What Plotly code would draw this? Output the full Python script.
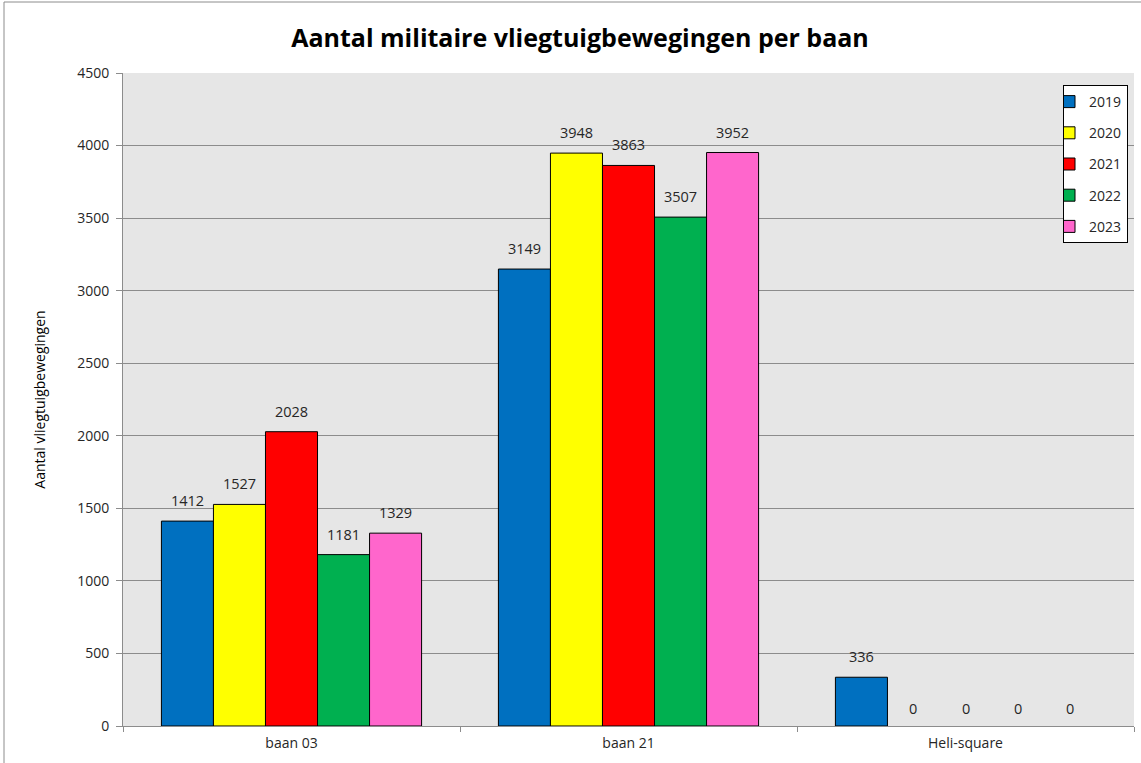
import plotly.graph_objects as go

categories = ["baan 03", "baan 21", "Heli-square"]
years = ["2019", "2020", "2021", "2022", "2023"]
values = {
    "2019": [1412, 3149, 336],
    "2020": [1527, 3948, 0],
    "2021": [2028, 3863, 0],
    "2022": [1181, 3507, 0],
    "2023": [1329, 3952, 0],
}
colors = ["#0070C0", "#FFFF00", "#FF0000", "#00B050", "#FF66CC"]
y_ticks = [0, 500, 1000, 1500, 2000, 2500, 3000, 3500, 4000, 4500]

FONT = "Open Sans"
W, H = 1141, 763
ML, MR, MT, MB = 123, 7, 73, 37
BARGAP = 0.228

fig = go.Figure()
for yr, col in zip(years, colors):
    fig.add_trace(go.Bar(
        name=yr, x=categories, y=values[yr],
        marker=dict(color=col,
                    line=dict(color="black",
                              width=[1 if v > 0 else 0 for v in values[yr]])),
        legendgroup=yr,
    ))

# data labels as annotations, placed with the bars' own offsets
plot_w = W - ML - MR
cat_px = plot_w / len(categories)
slot_px = cat_px * (1 - BARGAP) / len(years)
for i, yr in enumerate(years):
    for cat, v in zip(categories, values[yr]):
        fig.add_annotation(
            x=cat, y=v, xref="x", yref="y", text=str(v), showarrow=False,
            xshift=(i - (len(years) - 1) / 2) * slot_px,
            yshift=9 if v > 0 else 6,
            yanchor="bottom",
            font=dict(size=14.5, color="#262626", family=FONT))

fig.update_layout(
    width=W, height=H,
    margin=dict(l=ML, r=MR, t=MT, b=MB),
    paper_bgcolor="white", plot_bgcolor="#E6E6E6",
    barmode="group", bargap=BARGAP, bargroupgap=0,
    font=dict(family=FONT, size=14, color="#262626"),
    title=dict(text="<b>Aantal militaire vliegtuigbewegingen per baan</b>",
               x=580 / W, xanchor="center", xref="container",
               y=1 - 38 / H, yanchor="middle", yref="container",
               font=dict(size=25, color="black", family=FONT)),
    showlegend=True,
    legend=dict(x=(1063 - ML) / plot_w, xanchor="left",
                y=(H - MB - 85) / (H - MT - MB), yanchor="top",
                bgcolor="white", bordercolor="black", borderwidth=1,
                font=dict(size=14, color="#262626", family=FONT),
                tracegroupgap=10, indentation=-15),
    xaxis=dict(showline=True, linecolor="#8C8C8C", linewidth=1,
               ticks="outside", tickson="boundaries", ticklen=5,
               tickcolor="#8C8C8C", tickfont=dict(size=14),
               ticklabelstandoff=4, showgrid=False),
    yaxis=dict(range=[0, 4500], tickvals=y_ticks, showline=True,
               linecolor="#8C8C8C", linewidth=1, ticks="outside",
               ticklen=6, tickcolor="#8C8C8C", gridcolor="#8C8C8C",
               gridwidth=1, zeroline=False, tickfont=dict(size=14),
               ticklabelstandoff=4,
               title=dict(text="Aantal vliegtuigbewegingen",
                          font=dict(size=14, color="black"), standoff=28)),
)

# outer chart border
plot_h = H - MT - MB
fig.add_shape(type="rect", xref="paper", yref="paper",
              x0=(4 - ML) / plot_w, x1=(1150 - ML) / plot_w,
              y0=(H - MB - 775) / plot_h, y1=(H - MB - 2) / plot_h,
              line=dict(color="#8C8C8C", width=1), fillcolor="rgba(0,0,0,0)",
              layer="below")

fig.write_html("out.html", config={"displayModeBar": False},
               post_script="document.body.style.margin='0';")
